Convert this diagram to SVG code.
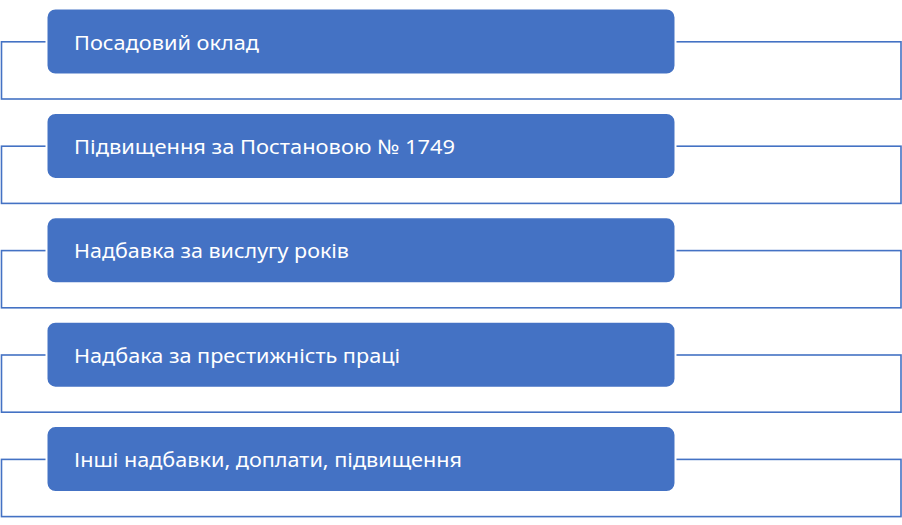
<svg xmlns="http://www.w3.org/2000/svg" width="902" height="525" viewBox="0 0 902 525">
<style>
.frame{fill:none;stroke:#4472C4;stroke-width:1.6}
.box{fill:#4472C4;stroke:#FFFFFF;stroke-width:2}
.lbl{fill:#FFFFFF;font-family:"Noto Sans","Open Sans","Liberation Sans",sans-serif;font-size:20px}
</style>
<rect width="902" height="525" fill="#FFFFFF"/>
<g id="connectors">
<rect class="frame" x="1.5" y="41.8" width="899.5" height="57.2"/>
<rect class="frame" x="1.5" y="146.2" width="899.5" height="57.2"/>
<rect class="frame" x="1.5" y="250.6" width="899.5" height="57.2"/>
<rect class="frame" x="1.5" y="355" width="899.5" height="57.2"/>
<rect class="frame" x="1.5" y="459.4" width="899.5" height="57.2"/>
</g>
<g id="node1">
<rect class="box" x="46.5" y="8.5" width="629" height="66" rx="9"/>
<text class="lbl" x="74" y="49.5" textLength="185" lengthAdjust="spacingAndGlyphs">Посадовий оклад</text>
</g>
<g id="node2">
<rect class="box" x="46.5" y="112.9" width="629" height="66" rx="9"/>
<text class="lbl" x="74" y="153.9" textLength="381" lengthAdjust="spacingAndGlyphs">Підвищення за Постановою № 1749</text>
</g>
<g id="node3">
<rect class="box" x="46.5" y="217.3" width="629" height="66" rx="9"/>
<text class="lbl" x="74" y="258.3" textLength="275" lengthAdjust="spacingAndGlyphs">Надбавка за вислугу років</text>
</g>
<g id="node4">
<rect class="box" x="46.5" y="321.7" width="629" height="66" rx="9"/>
<text class="lbl" x="74" y="362.7" textLength="326" lengthAdjust="spacingAndGlyphs">Надбака за престижність праці</text>
</g>
<g id="node5">
<rect class="box" x="46.5" y="426.1" width="629" height="66" rx="9"/>
<text class="lbl" x="74" y="467.1" textLength="388" lengthAdjust="spacingAndGlyphs">Інші надбавки, доплати, підвищення</text>
</g>
</svg>
